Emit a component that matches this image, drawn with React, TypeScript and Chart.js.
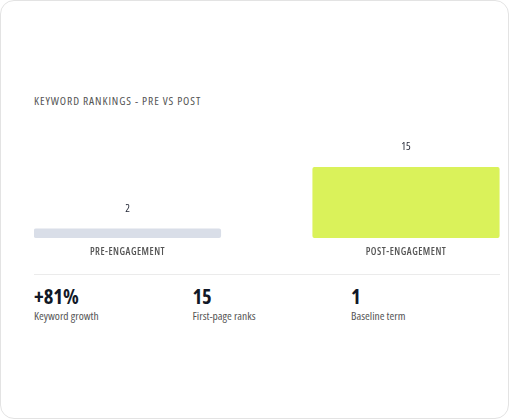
import React, { useEffect, useRef } from "react";
import { Chart, registerables } from "chart.js";

Chart.register(...registerables);

const categories: string[] = ["PRE-ENGAGEMENT", "POST-ENGAGEMENT"];
const rankings: number[] = [2, 15];
const yMin = 0;
const yMax = 15;
const statValues: string[] = ["+81%", "15", "1"];
const statLabels: string[] = ["Keyword growth", "First-page ranks", "Baseline term"];
const titleText = "KEYWORD RANKINGS - PRE VS POST";

const BAR_COLORS = ["#d9dee8", "#daf25a"];
const FONT = "'Open Sans', 'Liberation Sans', Arial, sans-serif";

const valueLabelPlugin = {
  id: "valueLabels",
  beforeDraw(chart: any) {
    (chart.ctx as any).letterSpacing = "0.5px";
  },
  afterDatasetsDraw(chart: any) {
    const ctx = chart.ctx;
    const meta = chart.getDatasetMeta(0);
    ctx.save();
    (ctx as any).letterSpacing = "0px";
    ctx.font = `400 condensed 11px ${FONT}`;
    ctx.fillStyle = "#1f2433";
    ctx.textAlign = "center";
    ctx.textBaseline = "middle";
    meta.data.forEach((bar: any, i: number) => {
      ctx.fillText(String(chart.data.datasets[0].data[i]), bar.x, bar.y - 20);
    });
    ctx.restore();
  },
};

function RankingChart() {
  const ref = useRef<HTMLCanvasElement | null>(null);
  useEffect(() => {
    if (!ref.current) return;
    const chart = new Chart(ref.current, {
      type: "bar",
      data: {
        labels: categories,
        datasets: [
          {
            data: rankings,
            backgroundColor: BAR_COLORS,
            borderRadius: 2,
            borderSkipped: false,
            categoryPercentage: 0.8,
            barPercentage: 0.84,
            clip: false as any,
          },
        ],
      },
      options: {
        animation: false,
        responsive: false,
        maintainAspectRatio: false,
        devicePixelRatio: 1,
        layout: { padding: { left: 93.5, right: 94, top: 46, bottom: 3 } },
        plugins: { legend: { display: false }, tooltip: { enabled: false } },
        scales: {
          x: {
            offset: false,
            grid: { display: false, drawTicks: false },
            border: { display: false },
            ticks: {
              padding: 8,
              color: "#555",
              font: { family: FONT, size: 10, weight: "600 condensed" as any },
              maxRotation: 0,
              autoSkip: false,
            },
          },
          y: { display: false, min: yMin, max: yMax },
        },
      },
      plugins: [valueLabelPlugin],
    });
    return () => chart.destroy();
  }, []);
  return (
    <canvas
      ref={ref}
      width={466}
      height={148}
      style={{ position: "absolute", left: 33, top: 120, width: 466, height: 148 }}
    />
  );
}

export default function App() {
  return (
    <div
      style={{
        position: "absolute",
        left: 0,
        top: 0,
        width: 509,
        height: 419,
        boxSizing: "border-box",
        border: "1px solid #e3e3e3",
        borderRadius: 14,
        background: "#fff",
        overflow: "hidden",
        fontFamily: FONT,
        fontStretch: "condensed",
      }}
    >
      <div
        style={{
          position: "absolute",
          left: 33,
          top: 93.5,
          fontSize: 11.5,
          lineHeight: "11.5px",
          letterSpacing: "0.9px",
          color: "#555",
          whiteSpace: "nowrap",
        }}
      >
        {titleText}
      </div>
      <RankingChart />
      <div
        style={{
          position: "absolute",
          left: 33,
          top: 273,
          width: 466,
          height: 1,
          background: "#ebebeb",
        }}
      />
      {statValues.map((v, i) => (
        <div key={i} style={{ position: "absolute", left: 33 + i * 158.5, top: 0 }}>
          <div
            style={{
              position: "absolute",
              left: 0,
              top: 285.3,
              fontSize: 20.5,
              lineHeight: "20.5px",
              fontWeight: 700,
              color: "#111827",
              whiteSpace: "nowrap",
            }}
          >
            {v}
          </div>
          <div
            style={{
              position: "absolute",
              left: 0,
              top: 309.3,
              fontSize: 11.5,
              lineHeight: "11.5px",
              color: "#555",
              whiteSpace: "nowrap",
            }}
          >
            {statLabels[i]}
          </div>
        </div>
      ))}
    </div>
  );
}
